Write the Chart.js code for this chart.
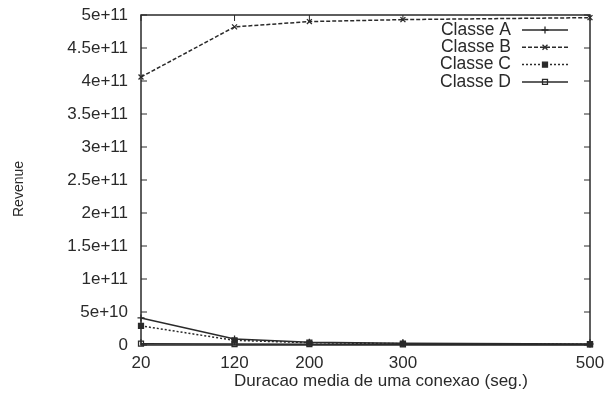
<!DOCTYPE html>
<html>
<head>
<meta charset="utf-8">
<script src="https://cdn.jsdelivr.net/npm/chart.js@4.4.1/dist/chart.umd.min.js"></script>
<style>
	html, body { margin: 0; padding: 0; background: #fff; }
	#wrap { width: 606px; height: 404px; }
</style>
</head>
<body>
<div id="wrap"><canvas id="ChartRevenue"></canvas></div>
<script>
// --------------
// DATA
// --------------
const duracao = [20, 120, 200, 300, 500];
const tickY = [0, 5e10, 1e11, 1.5e11, 2e11, 2.5e11, 3e11, 3.5e11, 4e11, 4.5e11, 5e11];

const classeA = [4.1e10, 9e9, 4e9, 2.5e9, 1.5e9];
const classeB = [4.06e11, 4.82e11, 4.9e11, 4.93e11, 4.96e11];
const classeC = [2.9e10, 7e9, 3.5e9, 2e9, 1.2e9];
const classeD = [2e9, 1.5e9, 1.2e9, 1e9, 8e8];

const tituloX = "Duracao media de uma conexao (seg.)";
const tituloY = "Revenue";

const INK = "#2a2a2a";
const FONT = "'Liberation Sans', Arial, sans-serif";

// gnuplot style numbers: 5e+10, 1.5e+11
const fmtExp = (v) => {
	if (v === 0) return "0";
	const e = Math.floor(Math.log10(v) + 1e-9);
	const m = +(v / Math.pow(10, e)).toFixed(2);
	return m + "e+" + e;
};

const toPoints = (vals) => vals.map((v, i) => ({ x: duracao[i], y: v }));

const serie = (label, vals, dash, pointStyle, filled) => ({
	label: label,
	data: toPoints(vals),
	borderColor: INK,
	backgroundColor: filled ? INK : "#fff",
	borderWidth: 1.5,
	borderDash: dash,
	pointStyle: pointStyle,
	pointRadius: 3.5,
	pointBorderWidth: 1.3,
	pointBorderColor: INK,
	pointBackgroundColor: filled ? INK : "rgba(0,0,0,0)",
	tension: 0,
	clip: false,
});

// frame + inward ticks on all four sides
const framePlugin = {
	id: "frame",
	beforeDatasetsDraw(chart) {
		const { ctx, chartArea: a, scales } = chart;
		ctx.save();
		ctx.strokeStyle = INK;
		ctx.lineWidth = 1.5;
		ctx.strokeRect(a.left, a.top, a.right - a.left, a.bottom - a.top);
		ctx.lineWidth = 1;
		tickY.forEach((v) => {
			const y = scales.y.getPixelForValue(v);
			ctx.beginPath();
			ctx.moveTo(a.left, y); ctx.lineTo(a.left + 6, y);
			ctx.moveTo(a.right, y); ctx.lineTo(a.right - 6, y);
			ctx.stroke();
		});
		duracao.forEach((v) => {
			const x = scales.x.getPixelForValue(v);
			ctx.beginPath();
			ctx.moveTo(x, a.bottom); ctx.lineTo(x, a.bottom - 6);
			ctx.moveTo(x, a.top); ctx.lineTo(x, a.top + 6);
			ctx.stroke();
		});
		ctx.restore();
	},
};

// axis titles (gnuplot puts them a bit off the plot centre)
const titlesPlugin = {
	id: "titles",
	afterDraw(chart) {
		const { ctx } = chart;
		ctx.save();
		ctx.fillStyle = INK;
		ctx.textAlign = "center";
		ctx.textBaseline = "middle";
		ctx.font = "17px " + FONT;
		ctx.fillText(tituloX, 381, 381);
		ctx.translate(19, 189);
		ctx.rotate(-Math.PI / 2);
		ctx.font = "14px " + FONT;
		ctx.fillText(tituloY, 0, 0);
		ctx.restore();
	},
};

// key in the upper right, text first then line sample
const keyPlugin = {
	id: "key",
	afterDraw(chart) {
		const { ctx } = chart;
		const textRight = 511, x0 = 522, x1 = 568, y0 = 30, step = 17.3;
		ctx.save();
		ctx.font = "17.5px " + FONT;
		ctx.textAlign = "right";
		ctx.textBaseline = "middle";
		chart.data.datasets.forEach((ds, i) => {
			const y = y0 + i * step;
			ctx.fillStyle = INK;
			ctx.fillText(ds.label, textRight, y);
			ctx.strokeStyle = INK;
			ctx.lineWidth = ds.borderWidth;
			ctx.setLineDash(ds.borderDash);
			ctx.beginPath();
			ctx.moveTo(x0, y); ctx.lineTo(x1, y);
			ctx.stroke();
			ctx.setLineDash([]);
			ctx.lineWidth = ds.pointBorderWidth;
			ctx.fillStyle = ds.pointBackgroundColor;
			Chart.helpers.drawPoint(ctx, {
				pointStyle: ds.pointStyle,
				radius: ds.pointRadius,
				borderWidth: ds.pointBorderWidth,
			}, (x0 + x1) / 2, y);
		});
		ctx.restore();
	},
};

const configRevenue = {
	type: "line",
	data: {
		datasets: [
			serie("Classe A", classeA, [], "cross", false),
			serie("Classe B", classeB, [4, 2], "crossRot", false),
			serie("Classe C", classeC, [2, 2], "rect", true),
			serie("Classe D", classeD, [], "rect", false),
		],
	},
	options: {
		responsive: false,
		animation: false,
		events: [],
		layout: { padding: { top: 15, right: 16, left: 0, bottom: 0 } },
		plugins: {
			legend: { display: false },
			tooltip: { enabled: false },
		},
		scales: {
			x: {
				type: "linear",
				min: 20,
				max: 500,
				afterBuildTicks: (scale) => {
					scale.ticks = duracao.map((v) => ({ value: v }));
				},
				afterFit: (scale) => {
					scale.height = 59;
					scale.paddingLeft = 0;
					scale.paddingRight = 0;
				},
				grid: { display: false, drawTicks: false },
				border: { display: false },
				ticks: {
					color: INK,
					font: { family: FONT, size: 17 },
					padding: 8,
					maxRotation: 0,
					callback: (v) => String(v),
				},
			},
			y: {
				min: 0,
				max: 5e11,
				afterBuildTicks: (scale) => {
					scale.ticks = tickY.map((v) => ({ value: v }));
				},
				afterFit: (scale) => {
					scale.width = 141;
					scale.paddingTop = 0;
					scale.paddingBottom = 0;
				},
				grid: { display: false, drawTicks: false },
				border: { display: false },
				ticks: {
					color: INK,
					font: { family: FONT, size: 17 },
					padding: 13,
					callback: (v) => fmtExp(v),
				},
			},
		},
	},
	plugins: [framePlugin, titlesPlugin, keyPlugin],
};

const canvas = document.getElementById("ChartRevenue");
canvas.width = 606;
canvas.height = 404;
const ChartRevenue = new Chart(canvas, configRevenue);
</script>
</body>
</html>
